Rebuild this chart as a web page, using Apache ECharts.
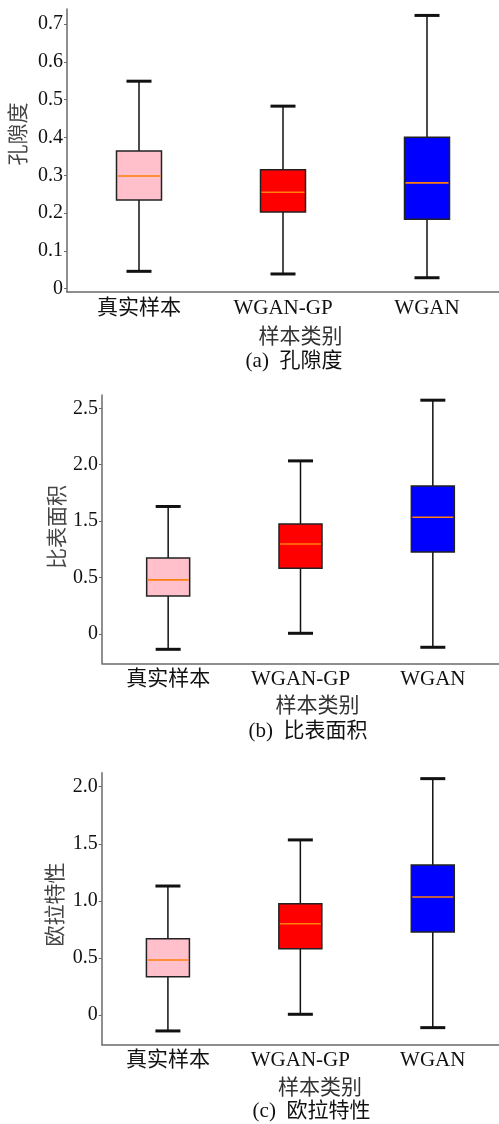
<!DOCTYPE html>
<html>
<head>
<meta charset="utf-8">
<script src="https://cdn.jsdelivr.net/npm/echarts@6/dist/echarts.min.js"></script>
<style>
html,body{margin:0;padding:0;background:#fff;}
#chart{width:499px;height:1124px;}
</style>
</head>
<body>
<div id="chart"></div>
<script>
// ---- data ----
const categories = ['真实样本', 'WGAN-GP', 'WGAN'];
// each row: [lower whisker, Q1, median, Q3, upper whisker]
const porosityStats = [
  [0.046, 0.235, 0.298, 0.364, 0.549],
  [0.039, 0.203, 0.255, 0.315, 0.483],
  [0.029, 0.184, 0.280, 0.401, 0.723]
];
const surfaceStats = [
  [-0.136, 0.337, 0.479, 0.674, 1.130],
  [0.006, 0.582, 0.798, 0.975, 1.534],
  [-0.118, 0.727, 1.035, 1.312, 2.072]
];
const eulerStats = [
  [-0.140, 0.336, 0.482, 0.669, 1.130],
  [0.006, 0.581, 0.800, 0.975, 1.534],
  [-0.111, 0.727, 1.034, 1.315, 2.071]
];
const porosityTicks = [0, 0.1, 0.2, 0.3, 0.4, 0.5, 0.6, 0.7];
const porosityTickLabels = ['0', '0.1', '0.2', '0.3', '0.4', '0.5', '0.6', '0.7'];
const surfaceTicks = [0, 0.5, 1.0, 1.5, 2.0];
const surfaceTickLabels = ['0', '0.5', '1.5', '2.0', '2.5'];
const eulerTicks = [0, 0.5, 1.0, 1.5, 2.0];
const eulerTickLabels = ['0', '0.5', '1.0', '1.5', '2.0'];

// ---- style ----
const FONT = "'Liberation Serif', 'Noto Sans CJK SC', serif";
const boxColors = ['#ffc0cb', '#ff0000', '#0000ff'];
const axisGray = '#6a6a6a';

const panels = [
  {stats: porosityStats, ticks: porosityTicks, labels: porosityTickLabels,
   grid: {left: 67, top: 9, width: 448.5, height: 283}, min: -0.0087, max: 0.74, boxW: 45,
   yName: '孔隙度', yNameX: 19, yNameY: 134,
   xName: {x: 300.5, y: 337}, cap: {x: 294, y: 361, t: '(a)  孔隙度'}},
  {stats: surfaceStats, ticks: surfaceTicks, labels: surfaceTickLabels,
   grid: {left: 102, top: 395, width: 429, height: 268.3}, min: -0.26, max: 2.118, boxW: 43,
   yName: '比表面积', yNameX: 58, yNameY: 527,
   xName: {x: 317.5, y: 706.5}, cap: {x: 308, y: 731.5, t: '(b)  比表面积'}},
  {stats: eulerStats, ticks: eulerTicks, labels: eulerTickLabels,
   grid: {left: 101.7, top: 772.7, width: 431, height: 271.6}, min: -0.257, max: 2.123, boxW: 43,
   yName: '欧拉特性', yNameX: 56, yNameY: 904.5,
   xName: {x: 320, y: 1088}, cap: {x: 311.5, y: 1111.5, t: '(c)  欧拉特性'}}
];

function makeRender(boxW) {
  return function (params, api) {
    const c = api.value(0);
    const lo = api.coord([c, api.value(1)]);
    const q1 = api.coord([c, api.value(2)]);
    const md = api.coord([c, api.value(3)]);
    const q3 = api.coord([c, api.value(4)]);
    const hi = api.coord([c, api.value(5)]);
    const x = lo[0];
    const half = boxW / 2;
    const capHalf = 12.5;
    const lineStyle = {stroke: '#111', lineWidth: 1.5};
    const capStyle = {stroke: '#111', lineWidth: 3};
    return {
      type: 'group',
      children: [
        {type: 'line', shape: {x1: x, y1: hi[1], x2: x, y2: q3[1]}, style: lineStyle},
        {type: 'line', shape: {x1: x, y1: q1[1], x2: x, y2: lo[1]}, style: lineStyle},
        {type: 'line', shape: {x1: x - capHalf, y1: hi[1], x2: x + capHalf, y2: hi[1]}, style: capStyle},
        {type: 'line', shape: {x1: x - capHalf, y1: lo[1], x2: x + capHalf, y2: lo[1]}, style: capStyle},
        {type: 'rect', shape: {x: x - half, y: q3[1], width: boxW, height: q1[1] - q3[1]},
         style: {fill: boxColors[params.dataIndex], stroke: '#222', lineWidth: 1.5}},
        {type: 'line', shape: {x1: x - half + 1, y1: md[1], x2: x + half - 1, y2: md[1]},
         style: {stroke: '#ff7f0e', lineWidth: 1.6}}
      ]
    };
  };
}

const grids = [], xAxes = [], yAxes = [], series = [], graphics = [];
panels.forEach((p, i) => {
  grids.push(Object.assign({containLabel: false}, p.grid));
  xAxes.push({
    type: 'category', gridIndex: i, data: categories,
    axisLine: {onZero: false, lineStyle: {color: axisGray, width: 1.5}},
    axisTick: {alignWithLabel: true, inside: true, length: 4, lineStyle: {color: axisGray}},
    axisLabel: {color: '#111', fontSize: 21, fontFamily: FONT, margin: 6},
    splitLine: {show: false}
  });
  const labelMap = {};
  p.ticks.forEach((t, k) => { labelMap[t.toFixed(3)] = p.labels[k]; });
  yAxes.push({
    type: 'value', gridIndex: i, min: p.min, max: p.max,
    axisLine: {show: true, lineStyle: {color: axisGray, width: 1.5}},
    axisTick: {show: true, length: 3, customValues: p.ticks, lineStyle: {color: axisGray}},
    axisLabel: {color: '#111', fontSize: 20, fontFamily: FONT, margin: 4,
      customValues: p.ticks,
      formatter: v => labelMap[Number(v).toFixed(3)] ?? ''},
    splitLine: {show: false}
  });
  series.push({
    type: 'custom', xAxisIndex: i, yAxisIndex: i,
    renderItem: makeRender(p.boxW),
    encode: {x: 0, y: [1, 2, 3, 4, 5]},
    data: p.stats.map((s, k) => [k].concat(s)),
    clip: false
  });
  graphics.push({
    type: 'text', x: p.yNameX, y: p.yNameY, rotation: Math.PI / 2,
    style: {text: p.yName, fill: '#444', font: '21px ' + FONT, align: 'center', verticalAlign: 'middle'}
  });
  graphics.push({
    type: 'text', x: p.xName.x, y: p.xName.y,
    style: {text: '样本类别', fill: '#333', font: '21px ' + FONT, align: 'center', verticalAlign: 'middle'}
  });
  graphics.push({
    type: 'text', x: p.cap.x, y: p.cap.y,
    style: {text: p.cap.t, fill: '#111', font: '21px ' + FONT, align: 'center', verticalAlign: 'middle'}
  });
});

const chart = echarts.init(document.getElementById('chart'), null, {renderer: 'canvas'});
chart.setOption({
  backgroundColor: '#fff',
  animation: false,
  grid: grids,
  xAxis: xAxes,
  yAxis: yAxes,
  series: series,
  graphic: graphics
});
</script>
</body>
</html>
